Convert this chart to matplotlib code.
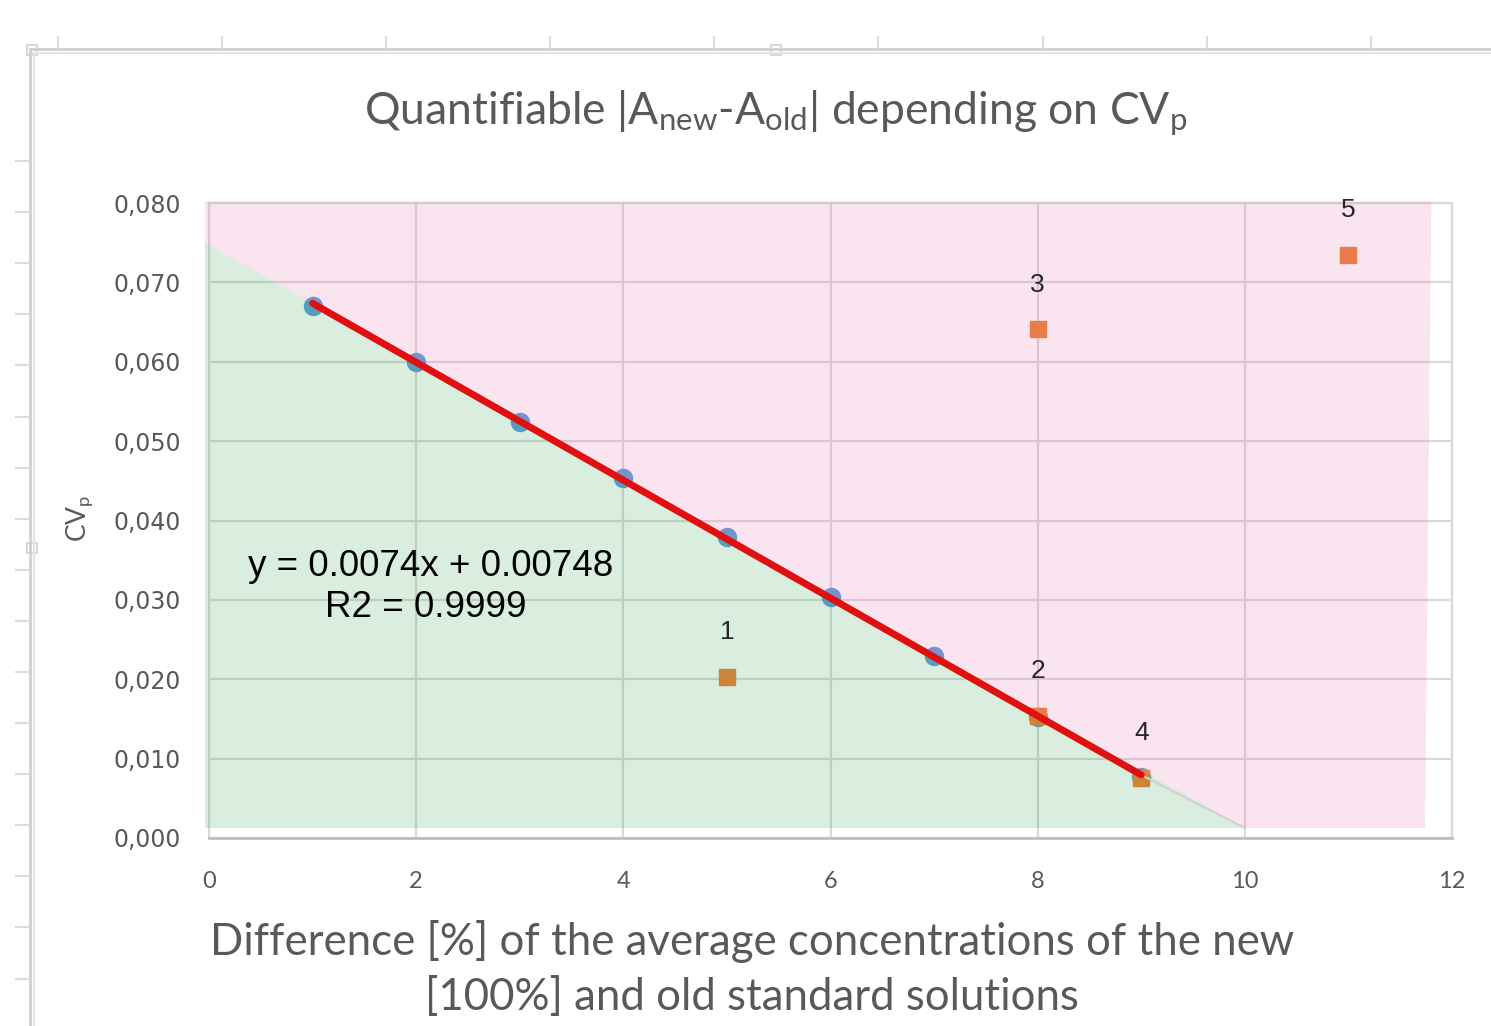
import numpy as np
import matplotlib
matplotlib.use("Agg")
import matplotlib.pyplot as plt
from matplotlib.lines import Line2D
from matplotlib.patches import Polygon, Rectangle

# data
diff_pct = [1, 2, 3, 4, 5, 6, 7, 8, 9]
cv_p = [0.0670, 0.0600, 0.0524, 0.0454, 0.0379, 0.0304, 0.0229, 0.0152, 0.0077]

sample_x = [5, 8, 8, 9, 11]
sample_cv = [0.0203, 0.0154, 0.0641, 0.0076, 0.0735]
sample_labels = ["1", "2", "3", "4", "5"]

x_ticks = [0, 2, 4, 6, 8, 10, 12]
y_ticks = [0.000, 0.010, 0.020, 0.030, 0.040, 0.050, 0.060, 0.070, 0.080]

GREY = "#595959"
W, H = 1491, 1026

plt.rcParams["mathtext.default"] = "regular"

fig = plt.figure(figsize=(W / 100, H / 100), dpi=100)
ax = fig.add_axes([209 / W, 1 - 838 / H, (1452 - 209) / W, (838 - 203) / H])

ax.set_xlim(0, 12)
ax.set_ylim(0, 0.080)
ax.set_xticks(x_ticks)
ax.set_yticks(y_ticks)
ax.set_yticklabels([f"{v:.3f}".replace(".", ",") for v in y_ticks],
                   family="DejaVu Sans", fontsize=17, color=GREY)
ax.set_xticklabels([str(v) for v in x_ticks], family="Lato", fontsize=17, color=GREY)
ax.tick_params(axis="y", length=0, pad=20)
ax.tick_params(axis="x", length=0, pad=24)

ax.set_axisbelow(True)
ax.grid(True, color="#D9D9D9", linewidth=1.6)
for side in ["top", "right", "left"]:
    ax.spines[side].set_color("#D9D9D9")
    ax.spines[side].set_linewidth(1.6)
ax.spines["bottom"].set_color("#BFBFBF")
ax.spines["bottom"].set_linewidth(2)

# points
ax.plot(diff_pct, cv_p, "o", color="#5B9BD5", markersize=13, zorder=2)
ax.plot(sample_x, sample_cv, "s", color="#ED7D31", markersize=11.5, zorder=2)

# shaded regions (quantifiable / not quantifiable)
fit = np.polyfit(diff_pct, cv_p, 1)
y_top, y_bot = 0.0802, 0.00126
green = Polygon([(-0.04, 0.0750), (10.0, y_bot), (-0.04, y_bot)],
                closed=True, facecolor=(65 / 255, 170 / 255, 90 / 255), alpha=0.2,
                edgecolor="none", zorder=3, clip_on=False)
pink = Polygon([(-0.04, y_top), (11.8, y_top), (11.74, y_bot), (10.0, y_bot), (-0.04, 0.0750)],
               closed=True, facecolor=(225 / 255, 120 / 255, 175 / 255), alpha=0.2,
               edgecolor="none", zorder=3, clip_on=False)
ax.add_patch(green)
ax.add_patch(pink)
ax.plot([9, 10], [np.polyval(fit, 9), y_bot], color="#D0D0D0", linewidth=1.5, zorder=3)

# trend line
xs = np.array([diff_pct[0], diff_pct[-1]])
ax.plot(xs, np.polyval(fit, xs), color="#E01010", linewidth=5, solid_capstyle="round", zorder=4)

for sx, sy, lab in zip(sample_x, sample_cv, sample_labels):
    ax.annotate(lab, (sx, sy), xytext=(0, 32), textcoords="offset points",
                ha="center", va="center", fontsize=19, color="#262626",
                family="Liberation Sans", zorder=5)

ax.text(2.14, 0.0342, "y = 0.0074x + 0.00748", ha="center", va="center",
        fontsize=26.5, family="Liberation Sans", color="black", zorder=5)
ax.text(2.09, 0.0290, "R2 = 0.9999", ha="center", va="center",
        fontsize=26.5, family="Liberation Sans", color="black", zorder=5)

# titles
fig.text(776 / W, 1 - 113 / H,
         "Quantifiable |A$_{new}$-A$_{old}$| depending on CV$_{p}$",
         ha="center", va="center", family="Lato", fontsize=32, color=GREY)
fig.text(752 / W, 1 - 969 / H,
         "Difference [%] of the average concentrations of the new\n[100%] and old standard solutions",
         ha="center", va="center", family="Lato", fontsize=31.5, color=GREY, linespacing=1.45)
fig.text(80 / W, 1 - 518 / H, "CV$_{p}$", rotation=90, ha="center", va="center",
         family="Lato", fontsize=19, color=GREY)

# chart selection frame around the object
def px_line(x0, y0, x1, y1, color="#D4D4D4", lw=1.5):
    fig.add_artist(Line2D([x0 / W, x1 / W], [1 - y0 / H, 1 - y1 / H],
                          color=color, linewidth=lw, transform=fig.transFigure))

px_line(31, 49, W, 49, "#CFCFCF", 2)
px_line(33, 53, W, 53, "#E6E6E6", 1.5)
px_line(30, 49, 30, H, "#CFCFCF", 2)
px_line(34, 53, 34, H, "#E6E6E6", 1.5)
for tx in np.arange(58, W, 164.1):
    px_line(tx, 37, tx, 48, "#DDDDDD", 1.5)
for ty in np.arange(161, H, 51.1):
    px_line(16, ty, 29, ty, "#DDDDDD", 1.5)
for hx, hy in [(32, 50), (776, 50), (32, 548)]:
    fig.add_artist(Rectangle(((hx - 5) / W, 1 - (hy + 5) / H), 10 / W, 10 / H,
                             facecolor="white", edgecolor="#CFCFCF", linewidth=1.2,
                             transform=fig.transFigure))

fig.savefig("out.png", dpi=100)
